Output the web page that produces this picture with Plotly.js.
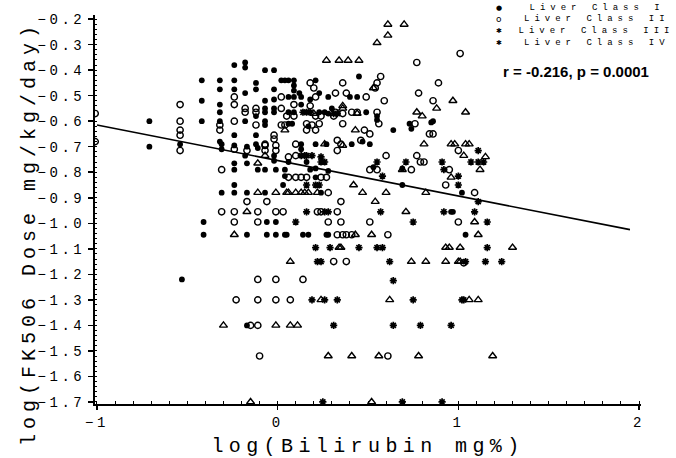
<!DOCTYPE html>
<html>
<head>
<meta charset="utf-8">
<script src="https://cdn.plot.ly/plotly-3.0.1.min.js"></script>
<style>
html,body{margin:0;padding:0;background:#fff;}
#chart{width:676px;height:458px;}
.xtick text,.ytick text{letter-spacing:3.5px;}
.xtitle{letter-spacing:5.4px;}
.ytitle{letter-spacing:5px;}
.annotation[data-index="0"] text,.annotation[data-index="1"] text,.annotation[data-index="2"] text,.annotation[data-index="3"] text{letter-spacing:5px;}
</style>
</head>
<body>
<div id="chart"></div>
<script>
// ---- data (log bilirubin, log dose) ----
const classI = [
[-0.71,-0.60],[-0.71,-0.70],
[-0.24,-0.38],[-0.18,-0.37],[-0.18,-0.39],[-0.07,-0.40],[-0.02,-0.40],
[-0.42,-0.44],[-0.32,-0.44],[-0.24,-0.44],[-0.12,-0.45],[0.02,-0.44],[0.04,-0.44],
[-0.32,-0.475],[-0.24,-0.475],[-0.12,-0.475],[-0.02,-0.475],[-0.18,-0.49],
[-0.42,-0.52],[-0.07,-0.52],[-0.02,-0.515],
[-0.32,-0.535],
[-0.07,-0.55],[-0.02,-0.55],
[-0.32,-0.565],[-0.07,-0.565],[-0.02,-0.565],
[-0.42,-0.60],[-0.32,-0.60],[-0.18,-0.60],[-0.12,-0.58],[-0.07,-0.60],[-0.07,-0.615],
[-0.24,-0.655],[-0.12,-0.655],[-0.32,-0.68],[-0.12,-0.69],
[-0.18,-0.735],
[-0.54,-0.69],[-0.31,-0.69],[-0.31,-0.71],[-0.24,-0.695],[-0.17,-0.70],[-0.11,-0.705],
[-0.02,-0.735],[-0.02,-0.755],
[-0.24,-0.765],[-0.24,-0.79],[-0.17,-0.765],
[-0.11,-0.79],[-0.07,-0.79],[-0.01,-0.79],[0.04,-0.79],
[0.04,-0.815],
[-0.24,-0.85],[0.03,-0.85],
[-0.31,-0.88],[-0.24,-0.88],[-0.17,-0.88],[-0.07,-0.88],
[-0.41,-0.995],[-0.06,-0.995],[-0.01,-0.995],
[-0.41,-1.045],[-0.17,-1.045],[-0.06,-1.045],[-0.01,-1.045],[0.04,-1.045],
[0.45,-0.425],[0.06,-0.44],[0.09,-0.44],[0.09,-0.46],[0.21,-0.44],
[0.09,-0.48],[0.12,-0.49],[0.23,-0.49],[0.40,-0.505],[0.44,-0.505],
[0.06,-0.505],[0.09,-0.505],[0.13,-0.505],[0.18,-0.515],[0.28,-0.505],
[0.13,-0.535],[0.30,-0.55],
[0.06,-0.565],[0.09,-0.565],[0.23,-0.565],[0.26,-0.565],[0.28,-0.57],[0.49,-0.565],
[0.55,-0.58],[0.55,-0.595],
[0.06,-0.61],[0.08,-0.61],[0.17,-0.62],
[0.64,-0.635],
[0.21,-0.69],[0.27,-0.69],[0.41,-0.69],[0.51,-0.69],[0.47,-0.68],
[0.13,-0.69],[0.13,-0.71],
[0.06,-0.76],[0.16,-0.76],[0.53,-0.78],[0.69,-0.785],[0.18,-0.79],[0.21,-0.785],[0.28,-0.795],[0.21,-0.82],[0.24,-0.88],
[0.05,-1.045],[0.14,-1.045],[0.17,-1.045],[0.27,-1.045],[0.28,-1.045],
[0.73,-0.61],[0.74,-0.63],[0.86,-0.60],[0.85,-0.605],
[0.69,-0.85],[1.02,-0.88],[0.96,-0.955],[0.97,-0.955],[1.04,-1.045],
[-0.53,-1.22],[-0.17,-1.40]
];
const classII = [
[-1.01,-0.57],[-1.01,-0.68],
[-0.54,-0.535],[-0.54,-0.60],[-0.54,-0.635],[-0.54,-0.655],[-0.54,-0.715],
[-0.24,-0.505],[0.02,-0.505],[-0.24,-0.535],[-0.18,-0.55],[-0.12,-0.55],[0.02,-0.55],[-0.18,-0.565],[-0.12,-0.565],
[-0.24,-0.60],[-0.12,-0.615],[0.02,-0.615],[0.04,-0.615],[-0.32,-0.615],[-0.32,-0.635],[-0.02,-0.655],[-0.02,-0.67],[-0.07,-0.69],
[-0.24,-0.71],[-0.17,-0.715],[-0.07,-0.695],[-0.07,-0.715],[-0.01,-0.715],[-0.01,-0.695],
[-0.31,-0.79],[-0.17,-0.915],[-0.06,-0.915],[-0.31,-0.955],[-0.24,-0.955],[-0.11,-0.955],[-0.01,-0.955],[0.03,-0.955],[-0.24,-0.995],[-0.11,-0.995],
[0.57,-0.425],[0.18,-0.45],[0.36,-0.45],[0.55,-0.45],[0.54,-0.47],[0.20,-0.47],[0.21,-0.505],[0.32,-0.49],[0.38,-0.49],[0.49,-0.505],[0.59,-0.52],
[0.09,-0.535],[0.18,-0.54],[0.32,-0.565],[0.36,-0.57],[0.41,-0.565],[0.44,-0.565],[0.55,-0.565],
[0.05,-0.58],[0.09,-0.58],[0.21,-0.58],[0.24,-0.58],[0.31,-0.58],
[0.36,-0.61],[0.56,-0.61],[0.16,-0.61],[0.19,-0.615],[0.23,-0.61],[0.16,-0.635],[0.21,-0.635],[0.48,-0.635],[0.51,-0.65],
[0.10,-0.69],[0.33,-0.675],[0.46,-0.675],
[0.33,-0.715],[0.35,-0.69],[0.06,-0.74],[0.10,-0.735],[0.60,-0.735],[0.51,-0.79],[0.55,-0.79],
[0.06,-0.82],[0.10,-0.82],[0.13,-0.82],[0.16,-0.82],[0.24,-0.82],[0.27,-0.82],[0.28,-0.88],[0.35,-0.915],
[0.22,-0.955],[0.24,-0.955],[0.33,-0.955],[0.28,-0.995],[0.35,-0.995],[0.51,-0.995],
[0.33,-1.045],[0.36,-1.045],[0.38,-1.045],[0.41,-1.045],[0.61,-1.045],[0.31,-1.15],[0.38,-1.15],
[1.01,-0.335],[0.77,-0.37],[0.89,-0.45],[0.78,-0.49],[0.86,-0.52],[0.76,-0.61],[0.84,-0.65],[0.86,-0.65],
[1.00,-0.715],[0.77,-0.735],[0.79,-0.76],[0.81,-0.76],[0.74,-0.79],[0.95,-0.79],[0.93,-0.85],[1.09,-0.88],[1.00,-0.995],[1.03,-1.155],
[-0.11,-1.22],[-0.01,-1.22],[0.14,-1.22],[-0.23,-1.30],[-0.11,-1.30],[-0.01,-1.30],[0.07,-1.30],[-0.15,-1.40],[-0.11,-1.40],[-0.10,-1.52],[0.61,-1.52]
];
const classIII = [
[0.14,-0.565],[0.16,-0.565],[0.18,-0.565],[0.31,-0.57],[0.33,-0.57],
[0.13,-0.735],[0.15,-0.735],[0.16,-0.735],[0.19,-0.735],[0.24,-0.74],
[0.55,-0.76],[0.24,-0.76],[0.26,-0.76],[0.58,-0.815],[0.16,-0.85],[0.21,-0.85],[0.23,-0.85],
[0.16,-0.955],[0.26,-0.955],[0.28,-0.955],[0.57,-0.955],[0.10,-0.995],
[0.21,-1.095],[0.29,-1.095],[0.45,-1.095],[0.55,-1.095],[0.58,-1.095],[0.22,-1.15],[0.24,-1.15],[0.62,-1.15],
[1.11,-0.715],[0.71,-0.76],[0.91,-0.76],[1.07,-0.76],[1.11,-0.76],[1.14,-0.76],[0.92,-0.79],[1.00,-0.815],[1.00,-0.85],[1.11,-0.915],
[0.92,-0.955],[1.09,-0.955],[0.75,-0.995],[1.16,-0.995],[1.16,-1.095],[1.04,-1.15],[1.15,-1.15],[1.24,-1.15],
[0.64,-1.225],[0.19,-1.30],[0.26,-1.30],[0.33,-1.30],[0.75,-1.30],[1.02,-1.30],[1.03,-1.30],
[0.31,-1.40],[0.64,-1.40],[0.79,-1.40],[0.96,-1.40],
[0.25,-1.70],[0.69,-1.70],[0.91,-1.70]
];
const classIV = [
[0.61,-0.221],[0.70,-0.221],[0.61,-0.264],[0.55,-0.293],[0.27,-0.362],[0.34,-0.362],[0.39,-0.362],[0.45,-0.362],
[0.53,-0.47],[0.36,-0.54],[0.36,-0.55],[0.20,-0.57],[0.44,-0.57],[0.43,-0.635],[0.04,-0.635],
[0.97,-0.52],[0.88,-0.55],[0.77,-0.565],[0.80,-0.58],[1.04,-0.565],[0.81,-0.69],[0.96,-0.69],[0.98,-0.69],[1.04,-0.69],[1.06,-0.69],
[1.03,-0.735],[1.15,-0.74],[0.69,-0.79],[1.12,-0.79],[0.96,-0.82],[0.82,-0.88],[0.71,-0.955],[1.09,-0.995],[1.11,-1.045],
[0.93,-1.095],[0.95,-1.095],[1.01,-1.095],[1.30,-1.095],[0.74,-1.15],[0.82,-1.15],[0.93,-1.15],[1.00,-1.15],[1.01,-1.15],
[0.26,-0.69],[0.36,-0.695],[0.42,-0.85],[0.06,-0.88],[0.10,-0.88],[0.13,-0.88],[0.15,-0.88],[0.17,-0.88],[0.22,-0.88],[0.47,-0.88],[0.60,-0.88],[0.54,-0.915],
[0.43,-1.045],[0.52,-1.045],[0.34,-1.095],[0.35,-1.095],[0.07,-1.15],
[-0.07,-0.735],[-0.11,-0.765],[-0.11,-0.88],[-0.01,-0.88],[0.05,-0.88],[-0.17,-0.955],[-0.24,-1.045],
[-0.30,-1.40],[-0.01,-1.40],[0.07,-1.40],[0.11,-1.40],[0.24,-1.30],[0.62,-1.30],[1.06,-1.30],[1.11,-1.30],
[0.28,-1.52],[0.41,-1.52],[0.56,-1.52],[0.78,-1.52],[1.19,-1.52],[-0.15,-1.70],[0.52,-1.70]
];
// regression line end points
const lineX = [-1.0, 1.95];
const lineY = [-0.615, -1.025];
// ticks and labels
const xTickVals = [-1, 0, 1, 2];
const xTickText = ["\u22121", "0", "1", "2"];
const yTickVals = [-0.2,-0.3,-0.4,-0.5,-0.6,-0.7,-0.8,-0.9,-1.0,-1.1,-1.2,-1.3,-1.4,-1.5,-1.6,-1.7];
const yTickText = ["\u22120.2","\u22120.3","\u22120.4","\u22120.5","\u22120.6","\u22120.7","\u22120.8","\u22120.9","\u22121.0","\u22121.1","\u22121.2","\u22121.3","\u22121.4","\u22121.5","\u22121.6","\u22121.7"];
const seriesNames = ["Liver Class I", "Liver Class II", "Liver Class III", "Liver Class IV"];
const legendSymbols = ["\u25CF", "o", "\u2731", "\u2731"];
const statText = "r = -0.216, p = 0.0001";
const xTitle = "log(Bilirubin mg%)";
const yTitle = "log(FK506 Dose mg/kg/day)";

const xs = p => p.map(d => d[0]);
const ys = p => p.map(d => d[1]);
const mono = "Liberation Mono, DejaVu Sans Mono, monospace";

const traces = [
  {type:'scatter', mode:'markers', name:seriesNames[0], x:xs(classI), y:ys(classI),
   marker:{symbol:'circle', size:5.8, color:'#000', line:{width:0}}},
  {type:'scatter', mode:'markers', name:seriesNames[1], x:xs(classII), y:ys(classII),
   marker:{symbol:'circle-open', size:6.3, color:'#000', line:{width:1.4, color:'#000'}}},
  {type:'scatter', mode:'markers', name:seriesNames[2], x:xs(classIII), y:ys(classIII),
   marker:{symbol:'asterisk-open', size:6, color:'#000', line:{width:1.7, color:'#000'}}},
  {type:'scatter', mode:'markers', name:seriesNames[3], x:xs(classIV), y:ys(classIV),
   marker:{symbol:'triangle-up-open', size:7, color:'#000', line:{width:1.4, color:'#000'}}},
  {type:'scatter', mode:'lines', name:'Regression', x:lineX, y:lineY,
   line:{color:'#000', width:1.6}, hoverinfo:'skip'}
];

const legendRowsY = [1.019, 0.989, 0.958, 0.928];
const annotations = [];
seriesNames.forEach((n, i) => annotations.push({
  xref:'paper', yref:'paper', x:0.919, y:legendRowsY[i], text:n, showarrow:false,
  xanchor:'center', yanchor:'middle', borderpad:0, font:{family:mono, size:9, color:'#000'}
}));
legendSymbols.forEach((s, i) => annotations.push({
  xref:'paper', yref:'paper', x:0.7405, y:legendRowsY[i], text:s, showarrow:false,
  xanchor:'center', yanchor:'middle', borderpad:0, font:{family:'DejaVu Sans', size: i===1 ? 9 : 7, color:'#000'}
}));
annotations.push({
  xref:'paper', yref:'paper', x:0.881, y:0.856, text:statText, showarrow:false,
  xanchor:'center', yanchor:'middle', font:{family:'Liberation Sans, Arial, sans-serif', size:15, color:'#000', weight:'bold'}
});

const layout = {
  width:676, height:458,
  margin:{l:95, r:35, t:15, b:54},
  paper_bgcolor:'#fff', plot_bgcolor:'#fff',
  showlegend:false,
  font:{family:mono, color:'#000', size:14},
  xaxis:{
    range:[-1.011, 2.011], tickmode:'array', tickvals:xTickVals, ticktext:xTickText,
    ticks:'outside', ticklen:4, tickwidth:1.5, tickcolor:'#000',
    showline:true, linecolor:'#000', linewidth:2, showgrid:false, zeroline:false,
    tickfont:{family:mono, size:14, color:'#000'},
    title:{text:xTitle, font:{family:mono, size:20, color:'#000'}, standoff:8},
    minor:{dtick:0.1, tick0:0, ticks:'inside', ticklen:3, tickwidth:1, tickcolor:'#000', showgrid:false}
  },
  yaxis:{
    range:[-1.708, -0.184], tickmode:'array', tickvals:yTickVals, ticktext:yTickText,
    ticks:'outside', ticklen:5, tickwidth:1.5, tickcolor:'#000',
    showline:true, linecolor:'#000', linewidth:2, showgrid:false, zeroline:false,
    tickfont:{family:mono, size:14, color:'#000'},
    title:{text:yTitle, font:{family:mono, size:20, color:'#000'}, standoff:3},
    minor:{dtick:0.02, tick0:0, ticks:'inside', ticklen:2, tickwidth:1, tickcolor:'#000', showgrid:false}
  },
  annotations:annotations
};

Plotly.newPlot('chart', traces, layout, {displayModeBar:false, staticPlot:true}).then(gd => {
  // the reference's y title sits lower than the plot centre: shift it down and slightly right
  const t = gd.querySelector('.ytitle');
  if (t) {
    const nx = parseFloat(t.getAttribute('x')) + 6;
    const ny = parseFloat(t.getAttribute('y')) + 24;
    t.setAttribute('x', nx);
    t.setAttribute('y', ny);
    t.setAttribute('transform', 'rotate(-90,' + nx + ',' + ny + ')');
  }
});
</script>
</body>
</html>
